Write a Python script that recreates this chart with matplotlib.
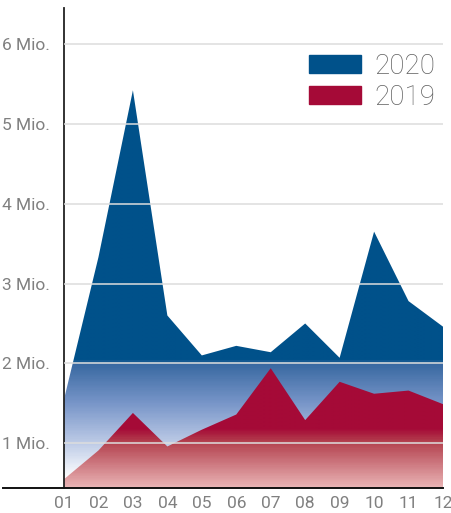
import numpy as np
import matplotlib.pyplot as plt
from matplotlib.colors import LinearSegmentedColormap
from matplotlib.patches import Patch
from matplotlib.lines import Line2D

plt.rcParams.update({'font.family': 'Roboto', 'font.weight': 'light'})

months = ["01", "02", "03", "04", "05", "06", "07", "08", "09", "10", "11", "12"]
# values in millions
y2020 = [1.55, 3.33, 5.42, 2.60, 2.10, 2.22, 2.14, 2.50, 2.07, 3.65, 2.78, 2.46]
y2019 = [0.55, 0.91, 1.38, 0.96, 1.17, 1.36, 1.94, 1.29, 1.77, 1.62, 1.66, 1.49]
yticks = [1, 2, 3, 4, 5, 6]

ymin, ymax = 0.44, 6.45
x = np.arange(1, 13)

fig = plt.figure(figsize=(4.52, 5.13), dpi=100)
ax = fig.add_axes([64/452, 25/513, 379/452, 480/513])

def grad_fill(yvals, stops, z):
	# stops: list of (value, color) for the vertical gradient
	poly = ax.fill_between(x, ymin, yvals, color='none', lw=0)
	lo, hi = ymin, ymax
	pos = [(v - lo) / (hi - lo) for v, c in stops]
	cmap = LinearSegmentedColormap.from_list('g', list(zip(pos, [c for v, c in stops])))
	grad = np.linspace(0, 1, 600).reshape(-1, 1)
	im = ax.imshow(grad, cmap=cmap, extent=[1, 12, lo, hi], origin='lower',
		aspect='auto', zorder=z, vmin=0, vmax=1, interpolation='bilinear')
	im.set_clip_path(poly.get_paths()[0], transform=ax.transData)

grad_fill(y2020, [(ymin, '#ffffff'), (0.55, '#ffffff'), (1.0, '#bccae6'),
	(1.5, '#7795c8'), (2.0, '#3767a0'), (2.03, '#00518a'), (ymax, '#00518a')], 1)
grad_fill(y2019, [(ymin, '#e9b3b4'), (0.7, '#d07e85'), (1.0, '#b4424f'),
	(1.17, '#a50a37'), (ymax, '#a50a37')], 2)

ax.set_xlim(1, 12)
ax.set_ylim(ymin, ymax)
for t in yticks:
	ax.axhline(t, color='#dddddd', lw=1.1, zorder=3)

ax.set_xticks(x)
ax.set_xticklabels(months, fontweight='normal')
ax.set_yticks(yticks)
ax.set_yticklabels([f"{t} Mio." for t in yticks], fontweight='normal')
ax.tick_params(length=0, colors='#808080', labelsize=12.5)
ax.tick_params(axis='y', pad=10)
ax.tick_params(axis='x', pad=6)

for s in ['top', 'right']:
	ax.spines[s].set_visible(False)
ax.spines['left'].set_color('#222222')
ax.spines['left'].set_linewidth(1.3)
ax.spines['bottom'].set_visible(False)
fig.add_artist(Line2D([3/452, 443/452], [25/513, 25/513], color='#111111', lw=1.4,
	transform=fig.transFigure))

handles = [Patch(color='#00518a', label='2020'), Patch(color='#a50a37', label='2019')]
leg = ax.legend(handles=handles, loc='upper right', bbox_to_anchor=(1.008, 0.93),
	fontsize=20, frameon=False, handlelength=1.9, handleheight=0.6,
	labelspacing=0.15, handletextpad=0.45, borderaxespad=0)
for t in leg.get_texts():
	t.set_color('#606060')

fig.savefig('out.png', dpi=100)
